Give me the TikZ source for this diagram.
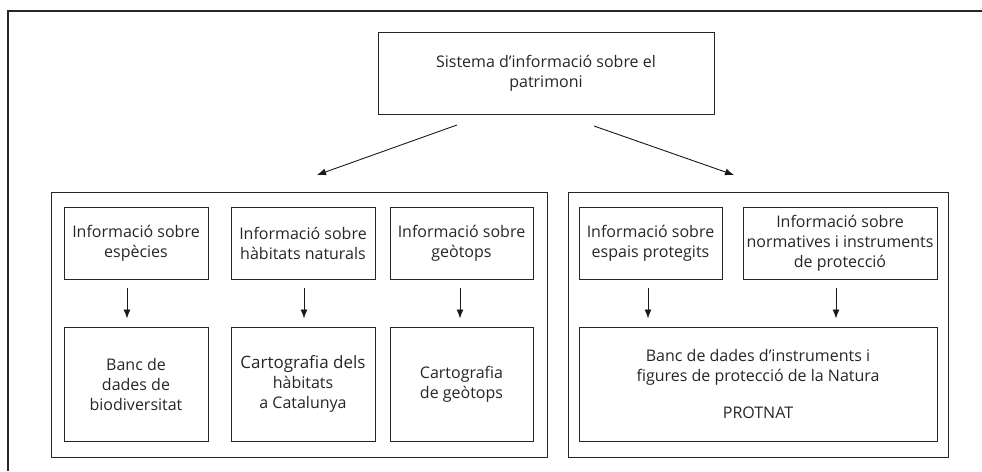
\documentclass[tikz,border=0pt]{standalone}
\usepackage{fontspec}
\setmainfont{Open Sans}
\usetikzlibrary{arrows.meta}
\begin{document}
\begin{tikzpicture}[x=1pt,y=-1pt,
  box/.style={draw=black!85, line width=1pt, align=center, inner sep=2pt,
    font=\fontsize{16}{20}\selectfont, text=black!85},
  grp/.style={draw=black!85, line width=1pt},
  arr/.style={draw=black!90, line width=0.9pt, -{Latex[length=9pt,width=7pt]}}]
\useasboundingbox (0,0) rectangle (982,471);
% outer frame (open at right and bottom)
\draw[black!85, line width=1.1pt] (8,471) -- (8,11) -- (982,11);
% top box
\node[box, minimum width=336pt, minimum height=82pt] (top) at (546,73)
  {Sistema d’informació sobre el\\patrimoni};
% groups
\node[grp, minimum width=496pt, minimum height=265pt] (gL) at (299,324.5) {};
\node[grp, minimum width=380pt, minimum height=265pt] (gR) at (758,324.5) {};
% top row
\node[box, minimum width=144pt, minimum height=72pt] (a1) at (136,243) {Informació sobre\\espècies};
\node[box, minimum width=144pt, minimum height=72pt] (a2) at (303,243) {Informació sobre\\hàbitats naturals};
\node[box, minimum width=143pt, minimum height=72pt] (a3) at (461.5,243) {Informació sobre\\geòtops};
\node[box, minimum width=143pt, minimum height=72pt] (a4) at (650.5,243) {Informació sobre\\espais protegits};
\node[box, minimum width=194pt, minimum height=72pt] (a5) at (840,243) {Informació sobre\\normatives i instruments\\de protecció};
% bottom row
\node[box, minimum width=144pt, minimum height=114pt] (b1) at (136,384) {Banc de\\dades de\\biodiversitat};
\node[box, minimum width=144pt, minimum height=114pt] (b2) at (303,384) {{\fontsize{17}{20}\selectfont Cartografia dels}\\hàbitats\\a Catalunya};
\node[box, minimum width=143pt, minimum height=114pt] (b3) at (461.5,384) {Cartografia\\de geòtops};
\node[box, minimum width=358pt, minimum height=114pt] (b5) at (758,384) {Banc de dades d’instruments i\\figures de protecció de la Natura\\[17pt]PROTNAT};
% arrows from top box
\coordinate (s1) at (457,125);
\coordinate (e1) at (317,175);
\coordinate (s2) at (594,126);
\coordinate (e2) at (734,175);
\draw[arr] (s1) -- (e1);
\draw[arr] (s2) -- (e2);
% vertical arrows
\draw[arr, shorten <=8pt, shorten >=8pt] ([xshift=-9pt]a1.south) -- ([xshift=-9pt]a1.south |- b1.north);
\draw[arr, shorten <=8pt, shorten >=8pt] ([xshift=1pt]a2.south) -- ([xshift=1pt]a2.south |- b2.north);
\draw[arr, shorten <=8pt, shorten >=8pt] ([xshift=-1.5pt]a3.south) -- ([xshift=-1.5pt]a3.south |- b3.north);
\draw[arr, shorten <=8pt, shorten >=8pt] ([xshift=-2.5pt]a4.south) -- ([xshift=-2.5pt]a4.south |- b5.north);
\draw[arr, shorten <=8pt, shorten >=8pt] ([xshift=-4pt]a5.south) -- ([xshift=-4pt]a5.south |- b5.north);
\end{tikzpicture}
\end{document}
